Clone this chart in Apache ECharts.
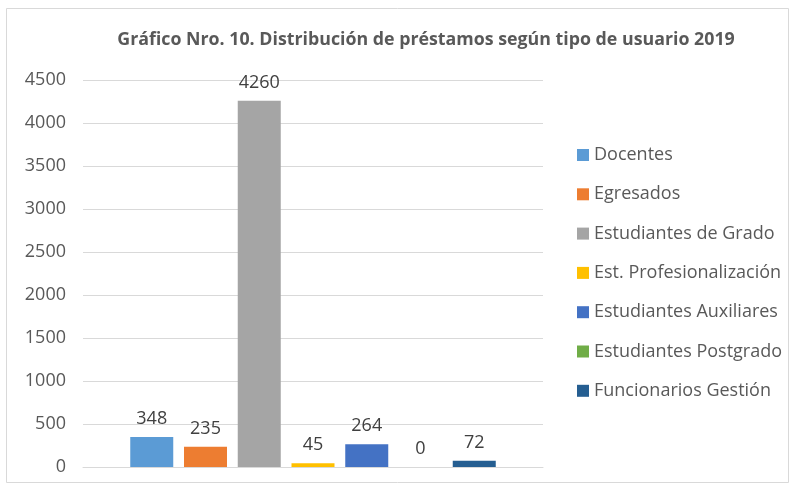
<!DOCTYPE html>
<html>
<head>
<meta charset="utf-8">
<script src="https://cdn.jsdelivr.net/npm/echarts@6/dist/echarts.min.js"></script>
<style>
  html, body { margin: 0; padding: 0; background: #fff; }
  #main { width: 795px; height: 489px; }
</style>
</head>
<body>
<div id="main"></div>
<script>
// datos del gráfico
var tipos = ['Docentes', 'Egresados', 'Estudiantes de Grado', 'Est. Profesionalización',
             'Estudiantes Auxiliares', 'Estudiantes Postgrado', 'Funcionarios Gestión'];
var prestamos = [348, 235, 4260, 45, 264, 0, 72];
var colores = ['#5b9bd5', '#ed7d31', '#a5a5a5', '#ffc000', '#4472c4', '#70ad47', '#255e91'];
var ticksY = [0, 500, 1000, 1500, 2000, 2500, 3000, 3500, 4000, 4500];

var fuente = '"Open Sans", "Liberation Sans", sans-serif';
var myChart = echarts.init(document.getElementById('main'));

var series = tipos.map(function (t, i) {
    return {
        name: t,
        type: 'bar',
        data: [prestamos[i]],
        barWidth: 43,
        barGap: '25%',
        itemStyle: { color: colores[i] },
        label: {
            show: true,
            position: 'top',
            distance: 9,
            color: '#404040',
            fontSize: 18,
            fontFamily: fuente
        }
    };
});

option = {
    backgroundColor: '#fff',
    animation: false,
    textStyle: { fontFamily: fuente },
    graphic: [{
        type: 'rect',
        shape: { x: 6.5, y: 8.5, width: 782, height: 474 },
        style: { fill: 'none', stroke: '#d9d9d9', lineWidth: 1 }
    }],
    title: {
        text: 'Gráfico Nro. 10. Distribución de préstamos según tipo de usuario 2019',
        left: 421,
        textAlign: 'center',
        top: 26,
        textStyle: { color: '#595959', fontSize: 17.8, fontWeight: 'bold', fontFamily: fuente }
    },
    legend: {
        orient: 'vertical',
        left: 572,
        top: 141,
        itemWidth: 12,
        itemHeight: 12,
        itemGap: 21.3,
        itemStyle: { borderWidth: 0 },
        icon: 'rect',
        textStyle: { color: '#595959', fontSize: 18, fontFamily: fuente },
        data: tipos
    },
    grid: { left: 83, right: 252, top: 80, bottom: 22, containLabel: false },
    xAxis: {
        type: 'category',
        data: [''],
        axisLine: { lineStyle: { color: '#d9d9d9' } },
        axisTick: { show: false },
        axisLabel: { show: false }
    },
    yAxis: {
        type: 'value',
        min: ticksY[0],
        max: ticksY[ticksY.length - 1],
        interval: 500,
        axisLine: { show: false },
        axisTick: { show: false },
        splitLine: { lineStyle: { color: '#d9d9d9' } },
        axisLabel: {
            color: '#595959', fontSize: 18, margin: 17, fontFamily: fuente,
            formatter: function (v) { return String(v); }
        }
    },
    series: series
};
myChart.setOption(option);
</script>
</body>
</html>
